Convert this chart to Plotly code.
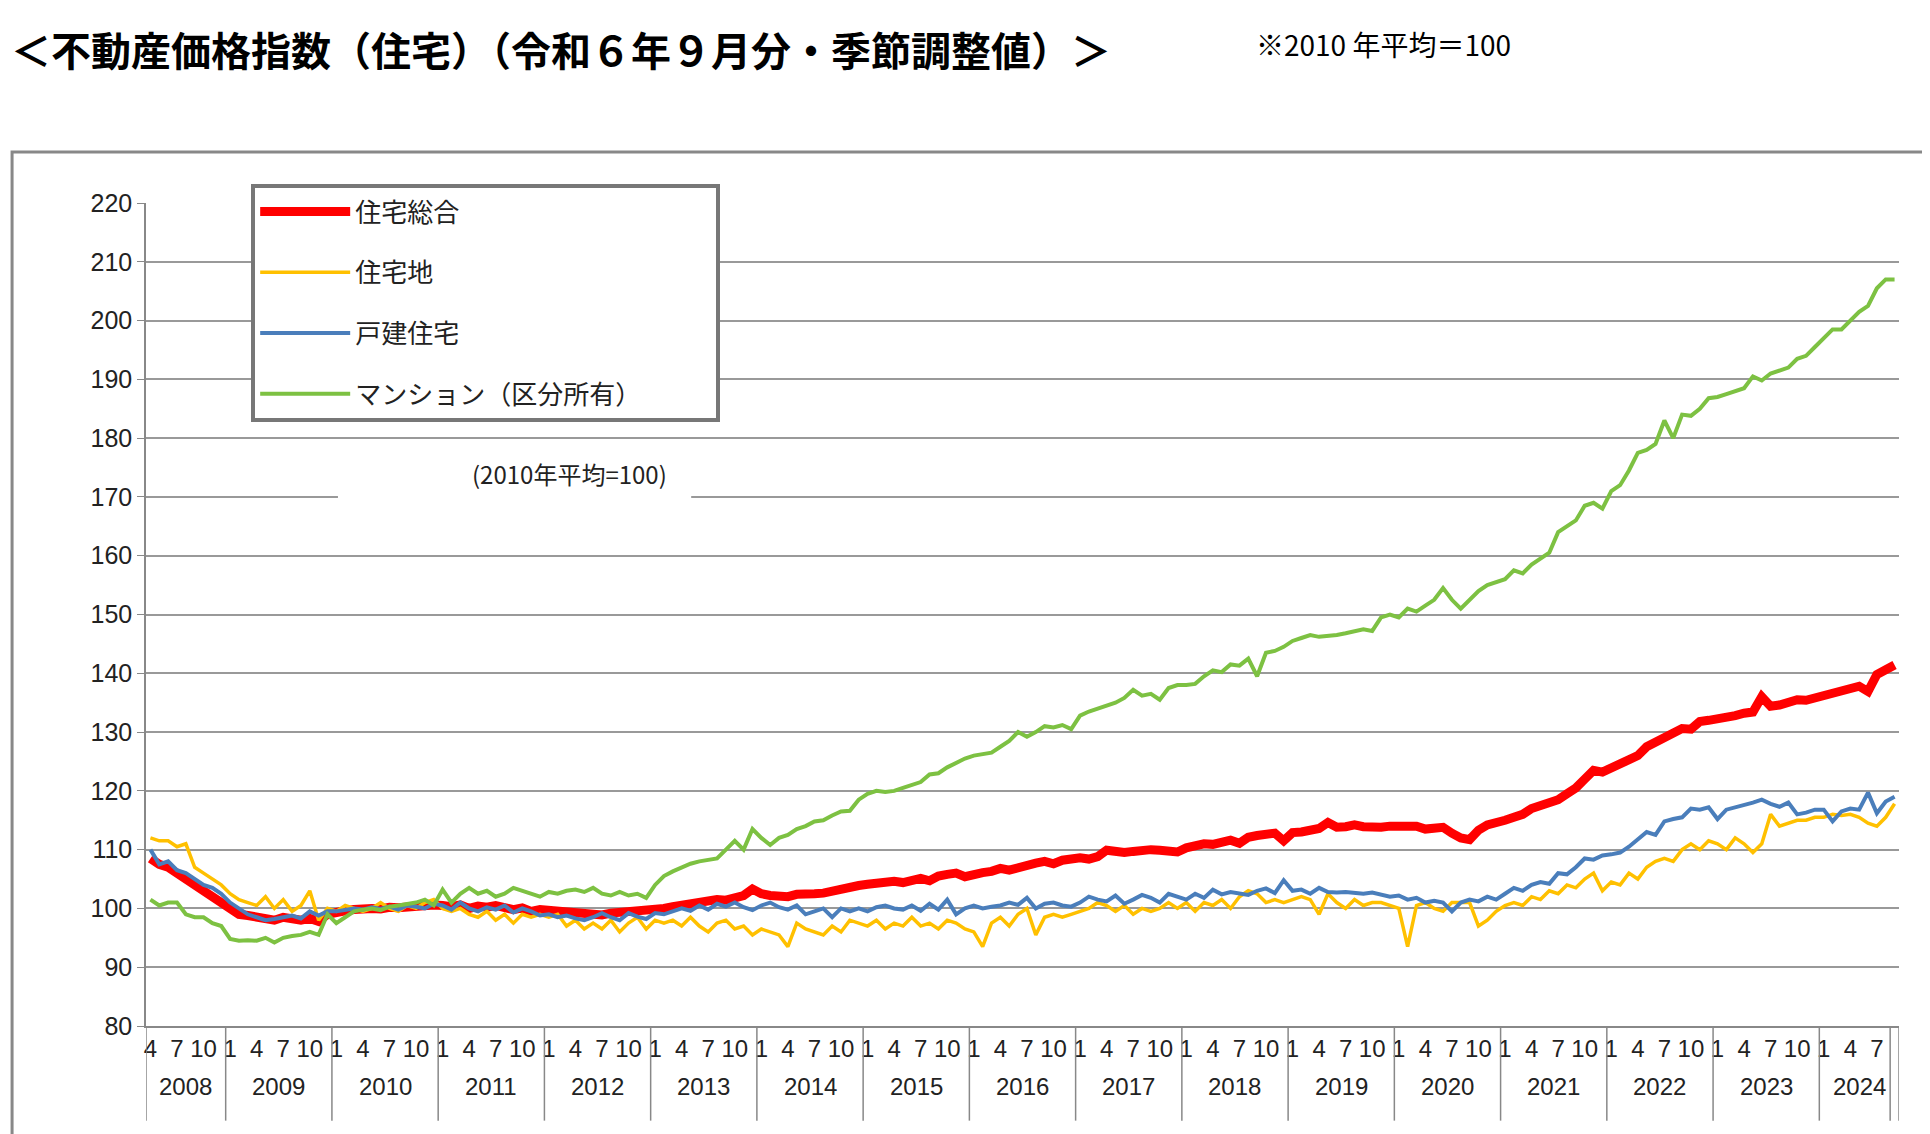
import plotly.graph_objects as go

# monthly, Apr 2008 .. Sep 2024 (seasonally adjusted, 2010 avg = 100)
total = [108.5, 107.5, 107, 106, 105, 104, 103, 102, 101,
         100, 99, 98.8, 98.5, 98.2, 98, 98.5, 98.2, 98, 98.3, 97.8, 99,
         99.5, 99.6, 99.8, 100, 100, 99.9, 100.2, 100.1, 100.3, 100.4, 100.5, 100.6,
         100.5, 100.3, 100.6, 100, 100.4, 100.2, 100.5, 100, 99.8, 100.1, 99.5, 99.8,
         99.7, 99.4, 99.5, 99.2, 99, 99.1, 98.9, 99.2, 99.3, 99.5, 99.4, 99.6,
         99.8, 100, 100.3, 100.6, 100.9, 101.1, 101.3, 101.5, 101.4, 101.8, 102.2, 103.3,
         102.5, 102.2, 102.1, 102, 102.4, 102.3, 102.5, 102.6, 103, 103.2, 103.6, 103.9,
         104.1, 104.3, 104.5, 104.6, 104.4, 104.8, 105.1, 104.7, 105.5, 105.8, 106, 105.4,
         105.9, 106.1, 106.3, 106.8, 106.5, 107, 107.3, 107.7, 108, 107.6, 108.2, 108.5,
         108.6, 108.4, 108.8, 109.9, 109.6, 109.5, 109.7, 109.9, 110, 109.9, 109.8, 109.6,
         110.3, 110.8, 111, 110.9, 111.4, 111.6, 111.1, 112.1, 112.4, 112.6, 112.8, 111.5,
         112.9, 113, 113.4, 113.6, 114.6, 113.8, 113.9, 114.2, 113.9, 113.8, 113.8, 114,
         114, 114.2, 114, 113.5, 113.6, 113.8, 112.8, 112, 111.7, 113.3, 114.2, 114.8,
         115, 115.5, 116, 117, 117.5, 117.6, 118.5, 119.5, 120.5, 122, 123.5, 123.2,
         124, 124.5, 125.3, 126, 127.5, 128.3, 129, 130, 130.6, 130.5, 131.8, 132,
         132.2, 132.6, 132.8, 133.2, 133.4, 136, 134.4, 134.6, 135, 135.5, 135.4, 135.8,
         136.3, 136.8, 137.2, 137.3, 137.8, 136.9, 139.8, 140.6, 141.4]

land = [112, 111.5, 111.5, 110.5, 111, 107, 106, 105, 104,
        102.5, 101.5, 101, 100.5, 102, 100, 101.5, 99.5, 100.5, 103, 98, 100,
        99.5, 100.5, 100, 99.5, 100, 101, 100, 99.5, 100.5, 100, 101, 101.5,
        100, 99.5, 100, 99, 98.5, 99.5, 98, 99, 97.5, 99, 98.5, 99,
        98.5, 99, 97, 98, 96.5, 97.5, 96.5, 98, 96, 97.5, 98.5, 96.5,
        98, 97.5, 98, 97, 98.5, 97, 96, 97.5, 98, 96.5, 97, 95.5,
        96.5, 96, 95.5, 93.5, 97.5, 96.5, 96, 95.5, 97, 96, 98, 97.5,
        97, 98, 96.5, 97.5, 97, 98.5, 97, 97.5, 96.5, 98, 97.5, 96.5,
        96, 93.5, 97.5, 98.5, 97, 99, 100, 95.5, 98.5, 99, 98.5, 99,
        99.5, 100, 101, 100.5, 99.5, 100.5, 99, 100, 99.5, 100, 101, 100,
        101, 99.5, 101, 100.5, 101.5, 100, 102, 103, 102.5, 101, 101.5, 101,
        101.5, 102, 101.5, 99, 102.5, 101, 100, 101.5, 100.5, 101, 101, 100.5,
        100, 93.5, 100.5, 101, 100, 99.5, 101, 101, 101, 97, 98, 99.5,
        100.5, 101, 100.5, 102, 101.5, 103, 102.5, 104, 103.5, 105, 106, 103,
        104.5, 104, 106, 105, 107, 108, 108.5, 108, 110, 111, 110, 111.5,
        111, 110, 112, 111, 109.5, 111, 116, 114, 114.5, 115, 115, 115.5,
        115.5, 116, 115.8, 116, 115.5, 114.5, 114, 115.5, 117.8]

house = [110, 107.5, 108, 106.5, 106, 105, 104, 103.5, 102.5,
         101, 100, 99, 98.5, 98, 98.2, 98.5, 98.8, 98.3, 99.5, 98.8, 99.5,
         99.5, 99.8, 100, 99.8, 100.2, 99.9, 100.3, 99.8, 100.5, 100.3, 100, 100.8,
         100.5, 99.8, 101, 100, 99.5, 100.2, 99.8, 100.5, 99.3, 100, 99.5, 98.8,
         99, 98.5, 98.8, 98.3, 98, 98.5, 99.2, 98.5, 98, 99.2, 98.6, 98.2,
         99.2, 99, 99.5, 100, 99.6, 100.5, 99.8, 100.8, 100.3, 101, 100.2, 99.7,
         100.5, 101, 100.2, 99.8, 100.5, 99, 99.5, 100, 98.5, 100, 99.5, 100,
         99.5, 100.2, 100.5, 100, 99.8, 100.5, 99.6, 100.8, 99.8, 101.5, 99, 100,
         100.5, 100, 100.3, 100.5, 101, 100.6, 101.8, 100, 100.8, 101, 100.5, 100.3,
         101, 102, 101.5, 101.2, 102.2, 100.8, 101.5, 102.3, 101.8, 101, 102.5, 102,
         101.5, 102.5, 101.8, 103.2, 102.4, 102.8, 102.5, 102.3, 103, 103.4, 102.6, 104.8,
         103, 103.2, 102.5, 103.5, 102.8, 102.7, 102.8, 102.7, 102.5, 102.7, 102.3, 102,
         102.2, 101.5, 101.8, 101, 101.3, 101, 99.5, 101, 101.5, 101.2, 102, 101.5,
         102.5, 103.5, 103, 104, 104.5, 104.2, 106, 105.8, 107, 108.5, 108.3, 109,
         109.2, 109.5, 110.5, 111.8, 113, 112.5, 114.8, 115.2, 115.5, 117, 116.8, 117.2,
         115.2, 116.8, 117.2, 117.5, 118, 118.5, 117.8, 117.3, 118, 116, 116.3, 116.8,
         116.8, 114.8, 116.5, 117, 116.8, 119.7, 116.2, 118.2, 119]

condo = [101.5, 100.5, 101, 101, 99, 98.5, 98.5, 97.5, 97,
         94.8, 94.5, 94.6, 94.5, 95, 94.2, 95, 95.3, 95.5, 96, 95.5, 99,
         97.5, 98.5, 99.5, 99.8, 100, 99.7, 100.3, 100.5, 100.8, 101, 101.5, 100.5,
         103.2, 101, 102.5, 103.5, 102.5, 103, 102, 102.5, 103.5, 103, 102.5, 102,
         102.8, 102.5, 103, 103.2, 102.8, 103.5, 102.5, 102.2, 102.8, 102.2, 102.5, 101.8,
         104, 105.5, 106.3, 107, 107.6, 108, 108.2, 108.5, 110, 111.5, 110, 113.5,
         112, 110.8, 112, 112.5, 113.5, 114, 114.8, 115, 115.8, 116.5, 116.6, 118.5,
         119.5, 120, 119.8, 120, 120.5, 121, 121.5, 122.8, 123, 124, 124.8, 125.5,
         126, 126.2, 126.5, 127.5, 128.5, 130, 129.2, 130, 131, 130.8, 131.2, 130.5,
         132.8, 133.5, 134, 134.5, 135, 135.8, 137.2, 136.2, 136.5, 135.5, 137.5, 138,
         138, 138.2, 139.5, 140.5, 140.2, 141.5, 141.3, 142.5, 139.5, 143.5, 143.8, 144.5,
         145.5, 146, 146.5, 146.2, 146.3, 146.5, 146.8, 147.2, 147.5, 147.2, 149.5, 150,
         149.5, 151, 150.5, 151.5, 152.5, 154.5, 152.5, 151, 152.5, 154, 155, 155.5,
         156, 157.5, 157, 158.5, 159.5, 160.5, 164, 165, 166, 168.5, 169, 168,
         171, 172, 174.5, 177.5, 178, 179, 183, 180, 184, 183.8, 185, 186.8,
         187, 187.5, 188, 188.5, 190.5, 189.8, 191, 191.5, 192, 193.5, 194, 195.5,
         197, 198.5, 198.5, 200, 201.5, 202.5, 205.5, 207, 207]

years = list(range(2008, 2025))
n = len(condo)
x = list(range(n))
months = [(3 + i) % 12 + 1 for i in x]

tickvals = [i for i in x if months[i] in (1, 4, 7, 10)]
ticktext = [str(months[i]) for i in tickvals]

pad = "\u00a0" * 12
series = [
    ("住宅総合", total, "#ff0000", 9),
    ("住宅地", land, "#ffc000", 3.5),
    ("戸建住宅", house, "#4a7ebb", 4),
    ("マンション（区分所有）" + pad, condo, "#7dc142", 4),
]

fig = go.Figure()
for k, (name, vals, col, w) in enumerate(series):
    fig.add_trace(go.Scatter(x=x[:len(vals)], y=vals, mode="lines", name=name, legendgroup=str(k),
                             line=dict(color=col, width=w)))

font = "Liberation Sans Narrow, Liberation Sans, Noto Sans CJK JP"

fig.update_layout(
    width=1930, height=1134,
    margin=dict(l=138, r=39, t=195, b=116),
    paper_bgcolor="white", plot_bgcolor="white",
    font=dict(family=font, size=24, color="#222"),
    showlegend=True,
    legend=dict(x=0.06, y=1.023, xanchor="left", yanchor="top",
                bordercolor="#777", borderwidth=4, bgcolor="white",
                font=dict(family="Noto Sans CJK JP", size=26),
                traceorder="grouped", tracegroupgap=24, itemwidth=90),
    xaxis=dict(range=[-0.5, n - 0.5], tickvals=tickvals, ticktext=ticktext,
               showgrid=False, zeroline=False, ticks="", showline=True,
               linecolor="#888", linewidth=1.5, tickfont=dict(size=24)),
    yaxis=dict(range=[80, 220], dtick=10, showgrid=True, gridcolor="#999",
               gridwidth=1.5, zeroline=False, showline=True, linecolor="#888",
               linewidth=1.5, ticks="outside", ticklen=7, tickcolor="#888",
               tickfont=dict(size=25)),
)

# year separators and year labels below the axis
for j, yr in enumerate(years):
    start = 0 if yr == 2008 else 9 + 12 * (j - 1)
    end = min(start + (9 if yr == 2008 else 12), n)
    fig.add_shape(type="line", xref="x", yref="paper", x0=start - 0.5, x1=start - 0.5,
                  y0=0, y1=-0.115, line=dict(color="#888", width=1.5))
    fig.add_annotation(x=(start + end - 1) / 2, y=-0.092, xref="x", yref="paper",
                       text=str(yr), showarrow=False, font=dict(size=24))
for xe in (n - 0.5, n - 1.5):
    fig.add_shape(type="line", xref="x", yref="paper", x0=xe, x1=xe,
                  y0=0, y1=-0.115, line=dict(color="#888", width=1.5))

# outer frame
fig.add_shape(type="rect", xref="paper", yref="paper", x0=-0.0764, x1=1.0194,
              y0=-0.1385, y1=1.062, line=dict(color="#888", width=3))

# note inside plot (covers part of the 170 gridline)
fig.add_shape(type="rect", xref="paper", yref="y", x0=0.1095, x1=0.311,
              y0=169.6, y1=170.4, fillcolor="white", line=dict(width=0), layer="above")
fig.add_annotation(x=0.185, y=174, xref="paper", yref="y", text="(2010年平均=100)",
                   showarrow=False, font=dict(family="Noto Sans CJK JP", size=24))

# titles
fig.add_annotation(x=-0.078, y=1.225, xref="paper", yref="paper", xanchor="left",
                   text="<b>＜不動産価格指数（住宅）（令和６年９月分・季節調整値）＞</b>",
                   showarrow=False, font=dict(family="Noto Sans CJK JP", size=40, color="#000"))
fig.add_annotation(x=0.632, y=1.22, xref="paper", yref="paper", xanchor="left",
                   text="※2010 年平均＝100", showarrow=False,
                   font=dict(family="Noto Sans CJK JP", size=28, color="#000"))

fig.write_html("out.html")
